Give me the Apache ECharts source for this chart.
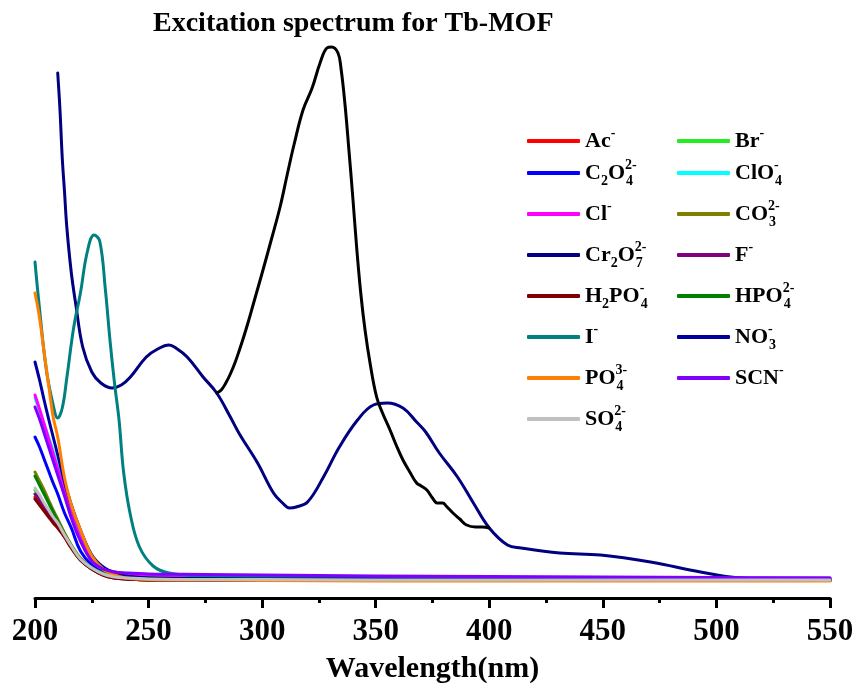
<!DOCTYPE html>
<html>
<head>
<meta charset="utf-8">
<title>Excitation spectrum for Tb-MOF</title>
<script src="https://cdn.jsdelivr.net/npm/echarts@6/dist/echarts.min.js"></script>
<style>
  html, body { margin: 0; padding: 0; background: #fff; }
  #chart { width: 858px; height: 693px; }
</style>
</head>
<body>
<div id="chart"></div>
<script>
// Excitation intensity (a.u.) of Tb-MOF suspensions with different anions.
// Most anions share one wavelength grid (nm).
const wavelength = [200, 202, 204, 206, 208, 210, 213, 216, 220, 225, 230, 235, 240, 250, 275, 300, 350, 400, 450, 500, 550];

const acValues    = [10100, 9500, 8900, 8300, 7700, 7100, 6100, 5000, 3800, 2900, 2300, 2000, 1900, 1800, 1800, 1800, 1750, 1750, 1750, 1750, 1750];
const brValues    = [10800, 10100, 9400, 8700, 8000, 7300, 6200, 5100, 3800, 2900, 2300, 2000, 1900, 1800, 1800, 1800, 1750, 1750, 1750, 1750, 1750];
const c2o4Values  = [16100, 15100, 13900, 12700, 11500, 10400, 8500, 7000, 4700, 3300, 2600, 2300, 2100, 2000, 1950, 1900, 1900, 1900, 1900, 1900, 1900];
const clo4Values  = [20000, 18700, 17400, 16100, 14700, 13200, 10800, 8500, 6000, 3900, 3000, 2600, 2400, 2200, 2100, 2100, 2000, 2000, 2000, 2000, 2000];
const clValues    = [20300, 18900, 17400, 15900, 14400, 12900, 10700, 8400, 6000, 3900, 3000, 2600, 2400, 2200, 2100, 2100, 2000, 2000, 2000, 2000, 2000];
const co3Values   = [12600, 11700, 10800, 9800, 8800, 7900, 6500, 5300, 4000, 3000, 2500, 2200, 2100, 2000, 1950, 1900, 1900, 1900, 1900, 1900, 1900];
const fValues     = [10400, 9800, 9100, 8500, 7900, 7200, 6200, 5100, 3800, 2900, 2300, 2000, 1900, 1800, 1800, 1800, 1800, 1750, 1750, 1750, 1750];
const h2po4Values = [9900, 9300, 8700, 8100, 7500, 7000, 6100, 5000, 3800, 2900, 2300, 2000, 1900, 1800, 1800, 1750, 1750, 1750, 1750, 1750, 1750];
const hpo4Values  = [12200, 11300, 10400, 9500, 8600, 7700, 6400, 5200, 3900, 3000, 2500, 2200, 2100, 2000, 1900, 1900, 1850, 1850, 1850, 1850, 1850];
const no3Values   = [23600, 21800, 19800, 17900, 16100, 14300, 11600, 9300, 6800, 4300, 3100, 2500, 2200, 2000, 1950, 1900, 1900, 1850, 1850, 1800, 1800];
const po4Values   = [30500, 28000, 24600, 21300, 18100, 16100, 12000, 9300, 6800, 4200, 2900, 2300, 2000, 1850, 1800, 1750, 1700, 1700, 1700, 1700, 1700];
const scnValues   = [19100, 17900, 16500, 15100, 13700, 12300, 10200, 8000, 5700, 3700, 2900, 2600, 2500, 2400, 2350, 2300, 2200, 2150, 2100, 2050, 2000];
const so4Values   = [11000, 10300, 9500, 8800, 8100, 7500, 6300, 5200, 3900, 3000, 2400, 2100, 2000, 1900, 1850, 1850, 1800, 1800, 1800, 1800, 1800];

// Iodide: band near 226 nm
const iWavelength = [200, 202, 205, 208, 210, 212, 214, 217, 220, 223, 226, 228.5, 231, 233, 235, 237, 239, 242, 246, 252, 259, 275, 300, 350, 400, 450, 500, 550];
const iValues     = [33600, 28900, 22800, 19300, 18000, 19000, 22000, 27000, 30500, 34600, 36300, 35700, 30800, 25800, 21500, 17800, 12600, 8300, 5100, 3200, 2500, 2200, 2100, 2000, 2000, 1900, 1900, 1900];

// Dichromate: bands near 258 nm and 355 nm
const cr2o7Wavelength = [210, 211, 212, 213, 214, 216, 218, 221, 225, 229, 234, 238, 242, 249, 254, 259, 262, 267, 274, 280, 286, 290, 298, 305, 309, 312, 315, 320, 327, 334, 342, 349, 355, 362, 368, 372, 378, 386, 393, 400, 408, 414, 431, 449, 471, 493, 510, 537, 550];
const cr2o7Values     = [52500, 48800, 44000, 40600, 37100, 32500, 29300, 25100, 22600, 21500, 21000, 21300, 22100, 24100, 24900, 25300, 25000, 24100, 22100, 20500, 18100, 16400, 13500, 10500, 9500, 9000, 9100, 9600, 12100, 15100, 17800, 19300, 19500, 19000, 17600, 16600, 14500, 12100, 9500, 7000, 5300, 5000, 4500, 4300, 3600, 2600, 2000, 1800, 1800];

// Tb-MOF band between 280 and 400 nm
const mofWavelength = [280, 282, 284, 286, 288, 290, 292, 294, 296, 298, 300, 304, 308, 311, 314, 318, 322, 325.5, 328.5, 330.6, 333.4, 334.7, 336.5, 338.2, 340, 341.7, 343.5, 345.3, 347.5, 350.4, 353, 356.3, 359, 362, 365, 368, 370, 372.5, 375, 377, 379.5, 381, 384, 387, 390, 394, 397, 400];
const mofValues     = [20500, 20800, 21500, 22400, 23500, 24800, 26200, 27700, 29300, 30900, 32500, 35800, 39200, 42300, 45300, 48800, 51000, 53500, 55000, 55100, 54500, 53000, 49300, 44800, 39800, 34800, 30300, 26800, 23500, 20100, 18500, 16800, 15300, 13800, 12600, 11500, 11200, 10800, 10000, 9500, 9500, 9200, 8500, 7900, 7300, 7100, 7100, 7000];

const xTicks = { min: 200, max: 550, interval: 50 };

// Legend labels as rich text: sb = subscript, sp = superscript, st = superscript stacked over the next subscript
const ionLabels = {
  'Ac-': 'Ac{sp|-}',
  'Br-': 'Br{sp|-}',
  'C2O4 2-': 'C{sb|2}O{st|2-}{sb|4}',
  'ClO4-': 'ClO{st|-}{sb|4}',
  'Cl-': 'Cl{sp|-}',
  'CO3 2-': 'CO{st|2-}{sb|3}',
  'Cr2O7 2-': 'Cr{sb|2}O{st|2-}{sb|7}',
  'F-': 'F{sp|-}',
  'H2PO4-': 'H{sb|2}PO{st|-}{sb|4}',
  'HPO4 2-': 'HPO{st|2-}{sb|4}',
  'I-': 'I{sp|-}',
  'NO3-': 'NO{st|-}{sb|3}',
  'PO4 3-': 'PO{st|3-}{sb|4}',
  'SCN-': 'SCN{sp|-}',
  'SO4 2-': 'SO{st|2-}{sb|4}'
};

const serif = '"Liberation Serif", "Times New Roman", Times, serif';

function pairs(xs, ys) {
  return xs.map((x, i) => [x, ys[i]]);
}

function spectrum(name, xs, ys, color) {
  return {
    name: name,
    type: 'line',
    data: pairs(xs, ys),
    symbol: 'none',
    showSymbol: false,
    smooth: 0.4,
    lineStyle: { color: color, width: 3, join: 'round', cap: 'round' },
    itemStyle: { color: color },
    emphasis: { disabled: true }
  };
}

const series = [
  spectrum('Ac-', wavelength, acValues, '#FF0000'),
  spectrum('Br-', wavelength, brValues, '#22EE22'),
  spectrum('C2O4 2-', wavelength, c2o4Values, '#0000FF'),
  spectrum('ClO4-', wavelength, clo4Values, '#00FFFF'),
  spectrum('Cl-', wavelength, clValues, '#FF00FF'),
  spectrum('CO3 2-', wavelength, co3Values, '#808000'),
  spectrum('Cr2O7 2-', cr2o7Wavelength, cr2o7Values, '#000080'),
  spectrum('F-', wavelength, fValues, '#800080'),
  spectrum('H2PO4-', wavelength, h2po4Values, '#800000'),
  spectrum('HPO4 2-', wavelength, hpo4Values, '#008000'),
  spectrum('I-', iWavelength, iValues, '#008080'),
  spectrum('NO3-', wavelength, no3Values, '#0000A0'),
  spectrum('PO4 3-', wavelength, po4Values, '#FF8000'),
  spectrum('SCN-', wavelength, scnValues, '#8000FF'),
  spectrum('SO4 2-', wavelength, so4Values, '#C0C0C0'),
  spectrum('Tb-MOF', mofWavelength, mofValues, '#000000')
];

const legendText = {
  fontFamily: serif,
  fontWeight: 'bold',
  fontSize: 22,
  lineHeight: 30,
  color: '#000',
  rich: {
    sb: { fontFamily: serif, fontWeight: 'bold', fontSize: 14, lineHeight: 16, verticalAlign: 'bottom', color: '#000' },
    sp: { fontFamily: serif, fontWeight: 'bold', fontSize: 14, lineHeight: 16, verticalAlign: 'top', color: '#000' },
    st: { fontFamily: serif, fontWeight: 'bold', fontSize: 14, lineHeight: 16, verticalAlign: 'top', width: 1, color: '#000' }
  }
};

function legendBlock(names, left, top) {
  return {
    data: names,
    orient: 'vertical',
    left: left,
    top: top,
    padding: 0,
    itemGap: 11,
    icon: 'roundRect',
    itemWidth: 53,
    itemHeight: 4,
    selectedMode: false,
    formatter: (name) => ionLabels[name],
    textStyle: legendText
  };
}

const chart = echarts.init(document.getElementById('chart'), null, { renderer: 'canvas' });

chart.setOption({
  animation: false,
  backgroundColor: '#ffffff',
  title: {
    text: 'Excitation spectrum for Tb-MOF',
    left: 153,
    top: 10,
    padding: 0,
    textStyle: { fontFamily: serif, fontWeight: 'bold', fontSize: 28, color: '#000' }
  },
  legend: [
    legendBlock(['Ac-'], 527, 126),
    legendBlock(['Br-'], 677, 126),
    legendBlock(['C2O4 2-', 'Cl-', 'Cr2O7 2-', 'H2PO4-', 'I-', 'PO4 3-', 'SO4 2-'], 527, 158),
    legendBlock(['ClO4-', 'CO3 2-', 'F-', 'HPO4 2-', 'NO3-', 'SCN-'], 677, 158)
  ],
  grid: { left: 35, right: 28, top: 38, bottom: 95, containLabel: false },
  xAxis: {
    type: 'value',
    min: xTicks.min,
    max: xTicks.max,
    interval: xTicks.interval,
    name: 'Wavelength(nm)',
    nameLocation: 'middle',
    nameGap: 56,
    nameTextStyle: { fontFamily: serif, fontWeight: 'bold', fontSize: 30, color: '#000' },
    axisLine: { show: true, onZero: false, lineStyle: { color: '#000', width: 3 } },
    axisTick: { show: true, inside: false, length: 10, lineStyle: { color: '#000', width: 3 } },
    minorTick: { show: true, splitNumber: 2, length: 5, lineStyle: { color: '#000', width: 3 } },
    axisLabel: { margin: 18, fontFamily: serif, fontWeight: 'bold', fontSize: 31, color: '#000' },
    splitLine: { show: false },
    minorSplitLine: { show: false }
  },
  yAxis: {
    type: 'value',
    min: 0,
    max: 56000,
    show: false,
    splitLine: { show: false }
  },
  series: series
});
</script>
</body>
</html>
